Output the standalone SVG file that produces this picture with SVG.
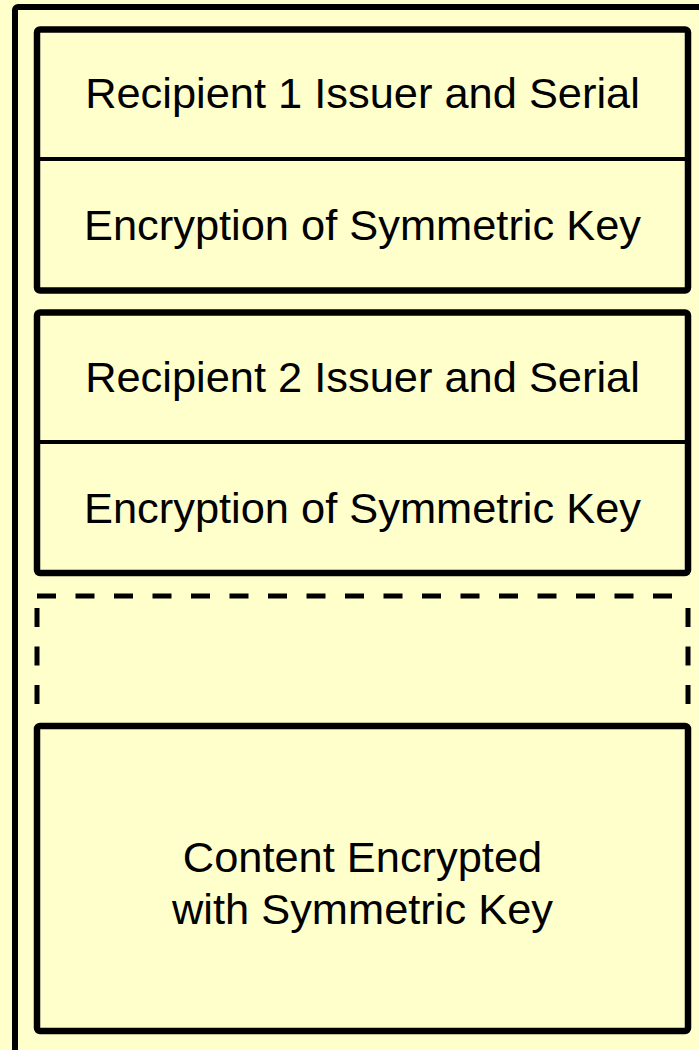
<svg xmlns="http://www.w3.org/2000/svg" width="699" height="1050" viewBox="0 0 699 1050">
<style>
.box{fill:#FFFFCC;stroke:#000;stroke-width:6.5;stroke-linejoin:round}
.div{stroke:#000;stroke-width:4}
.dash{fill:none;stroke:#000;stroke-width:5;stroke-dasharray:19 19.5}
text{font-family:"Liberation Sans",Arial,sans-serif;font-size:43.4px;fill:#000;text-anchor:middle}
</style>
<rect x="0" y="0" width="699" height="1050" fill="#FFFFCC"/>
<g id="outer">
<rect x="15" y="7" width="720" height="1100" rx="3" fill="#FFFFCC" stroke="#000" stroke-width="6"/>
</g>
<g id="recipient1">
<rect class="box" x="37" y="29.5" width="651" height="261" rx="3"/>
<line class="div" x1="37" y1="159" x2="688" y2="159"/>
<text x="362.5" y="108">Recipient 1 Issuer and Serial</text>
<text x="362.5" y="240">Encryption of Symmetric Key</text>
</g>
<g id="recipient2">
<rect class="box" x="37" y="312.5" width="651" height="260.5" rx="3"/>
<line class="div" x1="37" y1="442" x2="688" y2="442"/>
<text x="362.5" y="392">Recipient 2 Issuer and Serial</text>
<text x="362.5" y="523">Encryption of Symmetric Key</text>
</g>
<g id="more">
<line class="dash" x1="37" y1="596" x2="688" y2="596"/>
<line class="dash" x1="37" y1="608" x2="37" y2="704"/>
<line class="dash" x1="688" y1="608" x2="688" y2="704"/>
</g>
<g id="content">
<rect class="box" x="37" y="726" width="651" height="305" rx="3"/>
<text x="362.5" y="872">Content Encrypted</text>
<text x="362.5" y="924">with Symmetric Key</text>
</g>
<g id="connectors"></g>
</svg>
